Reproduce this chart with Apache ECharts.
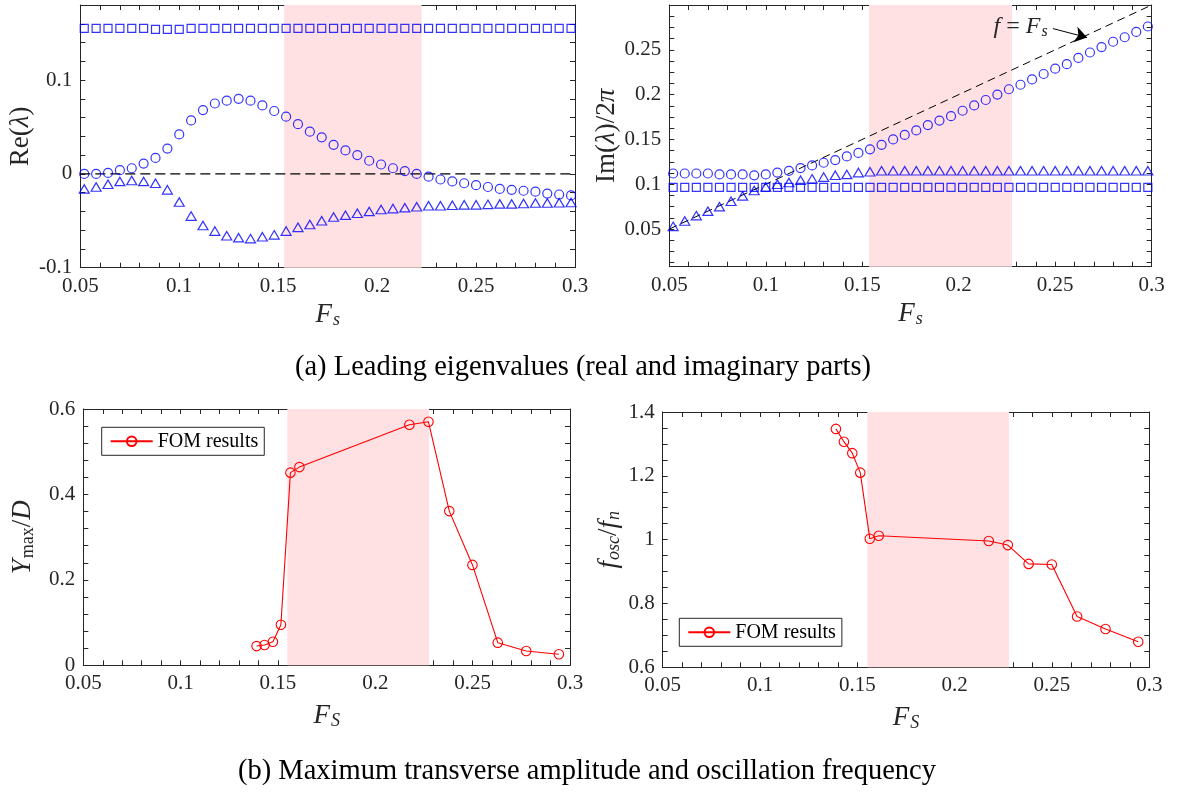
<!DOCTYPE html>
<html>
<head>
<meta charset="utf-8">
<script src="https://cdn.jsdelivr.net/npm/echarts@6/dist/echarts.min.js"></script>
<style>
  html, body { margin: 0; padding: 0; background: #fff; }
  #chart { width: 1178px; height: 793px; }
</style>
</head>
<body>
<div id="chart"></div>
<script>
// ---- Eigenvalue sweep over the forcing frequency F_s ----
const fsSweep = [0.052, 0.058, 0.064, 0.070, 0.076, 0.082, 0.088, 0.094, 0.100, 0.106,
  0.112, 0.118, 0.124, 0.130, 0.136, 0.142, 0.148, 0.154, 0.160, 0.166,
  0.172, 0.178, 0.184, 0.190, 0.196, 0.202, 0.208, 0.214, 0.220, 0.226,
  0.232, 0.238, 0.244, 0.250, 0.256, 0.262, 0.268, 0.274, 0.280, 0.286,
  0.292, 0.298];

// Real parts of the three leading eigenvalues
const reCircle = [0.000, 0.000, 0.001, 0.004, 0.006, 0.011, 0.017, 0.027, 0.042, 0.057,
  0.068, 0.075, 0.078, 0.080, 0.078, 0.073, 0.067, 0.061, 0.053, 0.045,
  0.039, 0.031, 0.025, 0.020, 0.014, 0.010, 0.006, 0.003, 0.000, -0.003,
  -0.006, -0.008, -0.010, -0.012, -0.014, -0.016, -0.017, -0.018, -0.019, -0.021,
  -0.022, -0.023];
const reTriangle = [-0.016, -0.014, -0.011, -0.008, -0.007, -0.008, -0.010, -0.017, -0.030, -0.045,
  -0.055, -0.061, -0.066, -0.068, -0.069, -0.067, -0.065, -0.061, -0.057, -0.054,
  -0.050, -0.046, -0.044, -0.042, -0.040, -0.038, -0.037, -0.036, -0.035, -0.034,
  -0.034, -0.0335, -0.033, -0.033, -0.0325, -0.032, -0.032, -0.0315, -0.031, -0.031,
  -0.0308, -0.0305];
const reSquare = [0.155, 0.155, 0.155, 0.155, 0.155, 0.155, 0.154, 0.154, 0.154, 0.155,
  0.155, 0.155, 0.155, 0.155, 0.155, 0.155, 0.155, 0.155, 0.155, 0.155,
  0.155, 0.155, 0.155, 0.155, 0.155, 0.155, 0.155, 0.155, 0.155, 0.155,
  0.155, 0.155, 0.155, 0.155, 0.155, 0.155, 0.155, 0.155, 0.155, 0.155,
  0.155, 0.155];

// Imaginary parts (frequencies) of the same eigenvalues
const imCircle = [0.112, 0.112, 0.112, 0.112, 0.111, 0.111, 0.111, 0.110, 0.111, 0.113,
  0.115, 0.118, 0.121, 0.124, 0.127, 0.131, 0.135, 0.139, 0.144, 0.150,
  0.155, 0.160, 0.166, 0.171, 0.176, 0.182, 0.188, 0.194, 0.200, 0.206,
  0.211, 0.217, 0.223, 0.229, 0.234, 0.241, 0.247, 0.253, 0.259, 0.264,
  0.270, 0.276];
const imTriangle = [0.053, 0.059, 0.065, 0.070, 0.075, 0.081, 0.087, 0.093, 0.097, 0.100,
  0.102, 0.1045, 0.106, 0.108, 0.110, 0.111, 0.113, 0.114, 0.115, 0.115,
  0.115, 0.115, 0.115, 0.115, 0.115, 0.115, 0.115, 0.115, 0.115, 0.115,
  0.115, 0.115, 0.115, 0.115, 0.115, 0.115, 0.115, 0.115, 0.115, 0.115,
  0.115, 0.115];
const imSquare = [0.0965, 0.0965, 0.0965, 0.0965, 0.0965, 0.0965, 0.0965, 0.0965, 0.0965, 0.0965,
  0.0965, 0.0965, 0.0965, 0.0965, 0.0965, 0.0965, 0.0965, 0.0965, 0.0965, 0.0965,
  0.0965, 0.0965, 0.0965, 0.0965, 0.0965, 0.0965, 0.0965, 0.0965, 0.0965, 0.0965,
  0.0965, 0.0965, 0.0965, 0.0965, 0.0965, 0.0965, 0.0965, 0.0965, 0.0965, 0.0965,
  0.0965, 0.0965];

// Reference lines: Re = 0 and f = F_s
const guideX = [0.05, 0.3];
const zeroY = [0, 0];
const diagY = [0.05, 0.3];

// "f = F_s" annotation anchor and arrow (data coordinates)
const annotAt = [0.2178, 0.2755];
const arrowFrom = [0.2488, 0.2737];
const arrowTo = [0.2665, 0.2637];

// ---- Full-order model (FOM) results ----
const fsFom = [0.1390, 0.1431, 0.1474, 0.1515, 0.1564, 0.1610, 0.2175, 0.2273, 0.2380, 0.2499, 0.2629, 0.2775, 0.2943];
const ymaxFom = [0.045, 0.0475, 0.055, 0.095, 0.451, 0.464, 0.563, 0.570, 0.361, 0.235, 0.053, 0.0335, 0.026];
const foscFom = [1.347, 1.307, 1.271, 1.210, 1.003, 1.012, 0.996, 0.983, 0.924, 0.922, 0.759, 0.720, 0.680];

// Lock-in bands [start, end] for each panel
const bandRe = [0.1530, 0.2225];
const bandIm = [0.1535, 0.2276];
const bandYmax = [0.1548, 0.2276];
const bandFosc = [0.1551, 0.2279];

// ---- Tick labels and tick positions ----
const fsLabels = ['0.05', '0.1', '0.15', '0.2', '0.25', '0.3'];
const fsTicks = [0.05, 0.06, 0.07, 0.08, 0.09, 0.10, 0.11, 0.12, 0.13, 0.14, 0.15, 0.16, 0.17,
  0.18, 0.19, 0.20, 0.21, 0.22, 0.23, 0.24, 0.25, 0.26, 0.27, 0.28, 0.29, 0.30];
const reLabels = ['-0.1', '0', '0.1'];
const reTicks = [-0.1, -0.08, -0.06, -0.04, -0.02, 0, 0.02, 0.04, 0.06, 0.08, 0.1, 0.12, 0.14, 0.16, 0.18];
const imLabels = ['0.05', '0.1', '0.15', '0.2', '0.25'];
const imTicks = [0.0125, 0.025, 0.0375, 0.05, 0.0625, 0.075, 0.0875, 0.1, 0.1125, 0.125, 0.1375, 0.15,
  0.1625, 0.175, 0.1875, 0.2, 0.2125, 0.225, 0.2375, 0.25, 0.2625, 0.275, 0.2875, 0.3];
const ymaxLabels = ['0', '0.2', '0.4', '0.6'];
const ymaxTicks = [0, 0.04, 0.08, 0.12, 0.16, 0.2, 0.24, 0.28, 0.32, 0.36, 0.4, 0.44, 0.48, 0.52, 0.56, 0.6];
const foscLabels = ['0.6', '0.8', '1', '1.2', '1.4'];
const foscTicks = [0.6, 0.65, 0.7, 0.75, 0.8, 0.85, 0.9, 0.95, 1.0, 1.05, 1.1, 1.15, 1.2, 1.25, 1.3, 1.35, 1.4];

// ---- Styling helpers ----
const SERIF = "'Liberation Serif', 'Times New Roman', 'DejaVu Serif', serif";
const AXC = '#262626';
const BLUE = '#0000ff';
const RED = '#ff0000';
const BAND = '#ffe1e4';

function richSet(size, subSize, drop) {
  return {
    r: { fontFamily: SERIF, fontSize: size, color: AXC },
    i: { fontFamily: SERIF, fontSize: size, fontStyle: 'italic', color: AXC },
    sub: { fontFamily: SERIF, fontSize: subSize, color: AXC, padding: [drop, 0, 0, 1] },
    isub: { fontFamily: SERIF, fontSize: subSize, fontStyle: 'italic', color: AXC, padding: [drop, 0, 0, 1] }
  };
}
const RICH = richSet(27, 18, 11);
const RICH_NOTE = richSet(24, 16, 10);

function labelFor(list) {
  return function (v) {
    const s = list.find(t => Math.abs(Number(t) - v) < 1e-9);
    return s === undefined ? '' : s;
  };
}

function axisBase(gridIndex, range, ticks) {
  return {
    type: 'value', gridIndex: gridIndex, min: range[0], max: range[1],
    splitLine: { show: false },
    axisLine: { show: true, onZero: false, lineStyle: { color: AXC, width: 1 } },
    axisTick: { show: true, inside: true, length: 5, customValues: ticks.slice(), lineStyle: { color: AXC, width: 1 } }
  };
}

function axisPair(dim, gridIndex, range, ticks, labels, name, nameGap) {
  const main = axisBase(gridIndex, range, ticks);
  main.position = dim === 'x' ? 'bottom' : 'left';
  main.axisLabel = {
    show: true, customValues: labels.map(Number), formatter: labelFor(labels),
    fontFamily: SERIF, fontSize: 21, color: AXC, margin: 8
  };
  main.name = name;
  main.nameLocation = 'middle';
  main.nameGap = nameGap;
  main.nameTextStyle = { fontFamily: SERIF, fontSize: 27, color: AXC, rich: RICH };
  const mirror = axisBase(gridIndex, range, ticks);
  mirror.position = dim === 'x' ? 'top' : 'right';
  mirror.axisLabel = { show: false };
  return [main, mirror];
}

function pairs(xs, ys) { return xs.map((x, k) => [x, ys[k]]); }

function markerSeries(axisIdx, symbol, size, ys) {
  return {
    type: 'scatter', xAxisIndex: axisIdx, yAxisIndex: axisIdx, z: 5,
    symbol: symbol, symbolSize: size,
    itemStyle: { color: 'rgba(0,0,0,0)', borderColor: BLUE, borderWidth: 1.2 },
    data: pairs(fsSweep, ys), silent: true
  };
}

function bandSeries(axisIdx, band) {
  return {
    type: 'line', xAxisIndex: axisIdx, yAxisIndex: axisIdx, z: 1, data: [], silent: true,
    markArea: { silent: true, itemStyle: { color: BAND, opacity: 1 }, data: [[{ xAxis: band[0] }, { xAxis: band[1] }]] }
  };
}

function fomSeries(axisIdx, ys) {
  return {
    name: 'FOM results', type: 'line', xAxisIndex: axisIdx, yAxisIndex: axisIdx, z: 5,
    symbol: 'circle', symbolSize: 9.5,
    itemStyle: { color: 'rgba(0,0,0,0)', borderColor: RED, borderWidth: 1.1 },
    lineStyle: { color: RED, width: 1.1 },
    data: pairs(fsFom, ys), silent: true
  };
}

const xA = [].concat(
  axisPair('x', 0, [0.05, 0.3], fsTicks, fsLabels, '{i|F}{isub|s}', 33),
  axisPair('x', 1, [0.05, 0.3], fsTicks, fsLabels, '{i|F}{isub|s}', 33),
  axisPair('x', 2, [0.05, 0.3], fsTicks, fsLabels, '{i|F}{isub|S}', 36),
  axisPair('x', 3, [0.05, 0.3], fsTicks, fsLabels, '{i|F}{isub|S}', 36)
);
const yA = [].concat(
  axisPair('y', 0, [-0.1, 0.18], reTicks, reLabels, '{r|Re(}{i|λ}{r|)}', 46),
  axisPair('y', 1, [0.008, 0.3], imTicks, imLabels, '{r|Im(}{i|λ}{r|)/2}{i|π}', 48),
  axisPair('y', 2, [0, 0.6], ymaxTicks, ymaxLabels, '{i|Y}{sub|max}{r|/}{i|D}', 46),
  axisPair('y', 3, [0.6, 1.4], foscTicks, foscLabels, '{i|f}{isub|osc}{r|/}{i|f}{isub|n}', 39)
);

const legendBase = {
  data: ['FOM results'], selectedMode: false, orient: 'horizontal',
  itemWidth: 42, itemHeight: 12,
  textStyle: { fontFamily: SERIF, fontSize: 20, color: '#000' },
  borderColor: AXC, borderWidth: 1, padding: [4, 6, 4, 8], backgroundColor: '#fff'
};

const option = {
  animation: false,
  backgroundColor: '#fff',
  grid: [
    { left: 80.3, top: 5, width: 494.7, height: 262.7 },
    { left: 669.3, top: 5, width: 482.4, height: 261.7 },
    { left: 83.3, top: 409, width: 486.7, height: 256.3 },
    { left: 662.7, top: 412, width: 486.6, height: 255.3 }
  ],
  xAxis: xA,
  yAxis: yA,
  legend: [
    Object.assign({}, legendBase, { left: 101.7, top: 427.3 }),
    Object.assign({}, legendBase, { left: 679.3, top: 618.3 })
  ],
  series: [
    // (a) real parts
    bandSeries(0, bandRe),
    {
      type: 'line', xAxisIndex: 0, yAxisIndex: 0, z: 3, symbol: 'none', silent: true,
      lineStyle: { color: '#000', width: 1.1, type: [10, 5] },
      data: pairs(guideX, zeroY)
    },
    markerSeries(0, 'rect', 8, reSquare),
    markerSeries(0, 'circle', 9, reCircle),
    markerSeries(0, 'triangle', [10, 8.5], reTriangle),
    // (a) imaginary parts
    bandSeries(2, bandIm),
    {
      type: 'line', xAxisIndex: 2, yAxisIndex: 2, z: 3, symbol: 'none', silent: true,
      lineStyle: { color: '#000', width: 1, type: [8, 5] },
      data: pairs(guideX, diagY),
      markLine: {
        silent: true, symbol: ['none', 'arrow'], symbolSize: 12,
        lineStyle: { type: 'solid', color: '#000', width: 1 },
        label: { show: false },
        data: [[{ coord: arrowFrom }, { coord: arrowTo }]]
      },
      markPoint: {
        silent: true, symbol: 'rect', symbolSize: 1,
        itemStyle: { color: 'rgba(0,0,0,0)' },
        label: {
          show: true, position: 'right', distance: 0,
          formatter: '{i|f}{r| = }{i|F}{isub|s}', rich: RICH_NOTE
        },
        data: [{ coord: annotAt }]
      }
    },
    markerSeries(2, 'rect', 8, imSquare),
    markerSeries(2, 'circle', 9, imCircle),
    markerSeries(2, 'triangle', [10, 8.5], imTriangle),
    // (b) amplitude and frequency
    bandSeries(4, bandYmax),
    fomSeries(4, ymaxFom),
    bandSeries(6, bandFosc),
    fomSeries(6, foscFom)
  ],
  graphic: [
    {
      type: 'text', x: 583, y: 368,
      style: {
        text: '(a) Leading eigenvalues (real and imaginary parts)',
        font: "28.5px 'Liberation Serif', 'Times New Roman', serif", fill: '#000',
        textAlign: 'center', textVerticalAlign: 'middle'
      }
    },
    {
      type: 'text', x: 587, y: 772,
      style: {
        text: '(b) Maximum transverse amplitude and oscillation frequency',
        font: "28.5px 'Liberation Serif', 'Times New Roman', serif", fill: '#000',
        textAlign: 'center', textVerticalAlign: 'middle'
      }
    }
  ]
};

const chart = echarts.init(document.getElementById('chart'), null, { renderer: 'canvas' });
chart.setOption(option);
</script>
</body>
</html>
